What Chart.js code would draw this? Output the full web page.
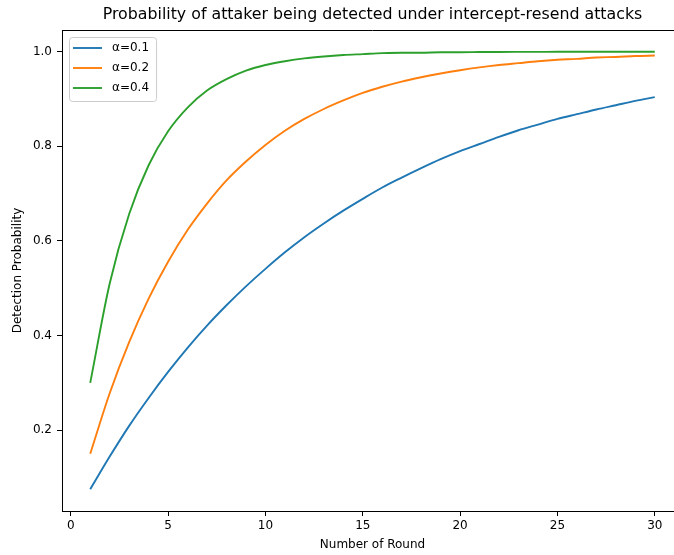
<!DOCTYPE html>
<html>
<head>
<meta charset="utf-8">
<script src="https://cdn.jsdelivr.net/npm/chart.js@4.4.1/dist/chart.umd.min.js"></script>
<style>
  html, body { margin: 0; padding: 0; background: #fff; overflow: hidden; }
  #wrap { width: 674px; height: 555px; overflow: hidden; }
</style>
</head>
<body>
<div id="wrap"><canvas id="chart" width="700" height="555"></canvas></div>
<script>
// data
const chartTitle = 'Probability of attaker being detected under intercept-resend attacks';
const xTitle = 'Number of Round';
const yTitle = 'Detection Probability';

const rounds = [1, 2, 3, 4, 5, 6, 7, 8, 9, 10, 11, 12, 13, 14, 15,
                16, 17, 18, 19, 20, 21, 22, 23, 24, 25, 26, 27, 28, 29, 30];

const seriesLabels = ['α=0.1', 'α=0.2', 'α=0.4'];
const seriesColors = ['#1f77b4', '#ff7f0e', '#2ca02c'];

const alpha01 = [0.075, 0.144, 0.209, 0.268, 0.323, 0.374, 0.421, 0.464, 0.504, 0.541,
                 0.576, 0.608, 0.637, 0.664, 0.689, 0.713, 0.734, 0.754, 0.773, 0.790,
                 0.805, 0.820, 0.834, 0.846, 0.858, 0.868, 0.878, 0.887, 0.896, 0.904];
const alpha02 = [0.150, 0.278, 0.386, 0.478, 0.556, 0.623, 0.679, 0.728, 0.768, 0.803,
                 0.833, 0.858, 0.879, 0.897, 0.913, 0.926, 0.937, 0.946, 0.954, 0.961,
                 0.967, 0.972, 0.976, 0.980, 0.983, 0.985, 0.988, 0.989, 0.991, 0.992];
const alpha04 = [0.300, 0.510, 0.657, 0.760, 0.832, 0.882, 0.918, 0.942, 0.960, 0.972,
                 0.980, 0.986, 0.990, 0.993, 0.995, 0.997, 0.998, 0.998, 0.999, 0.999,
                 0.9994, 0.9996, 0.9997, 0.9998, 0.9999, 0.9999, 0.9999, 1.0, 1.0, 1.0];

const xTickValues = [0, 5, 10, 15, 20, 25, 30];
const yTickValues = [0.2, 0.4, 0.6, 0.8, 1.0];

Chart.defaults.font.family = '"DejaVu Sans", sans-serif';
Chart.defaults.font.size = 12;
Chart.defaults.color = '#000';

const allSeries = [alpha01, alpha02, alpha04];

// matplotlib style title + top spine + legend box inside the axes
const mplExtras = {
    id: 'mplExtras',
    afterDatasetsDraw(chart) {
        const ctx = chart.ctx;
        const area = chart.chartArea;
        ctx.save();

        // top spine
        ctx.strokeStyle = '#000';
        ctx.lineWidth = 1;
        ctx.beginPath();
        ctx.moveTo(area.left, area.top + 0.5);
        ctx.lineTo(area.right, area.top + 0.5);
        ctx.stroke();

        // title
        ctx.fillStyle = '#000';
        ctx.font = '15.8px "DejaVu Sans", sans-serif';
        ctx.textAlign = 'center';
        ctx.textBaseline = 'middle';
        ctx.fillText(chartTitle, (area.left + area.right) / 2, 15);

        // legend
        ctx.font = '12px "DejaVu Sans", sans-serif';
        const sets = chart.data.datasets;
        let textW = 0;
        sets.forEach(ds => { textW = Math.max(textW, ctx.measureText(ds.label).width); });
        const bx = area.left + 7, by = area.top + 7;
        const bw = 43 + textW + 7, bh = 64;
        ctx.fillStyle = 'rgba(255,255,255,0.8)';
        ctx.strokeStyle = '#cccccc';
        ctx.lineWidth = 1;
        ctx.beginPath();
        ctx.roundRect(bx + 0.5, by + 0.5, bw, bh, 3);
        ctx.fill();
        ctx.stroke();

        sets.forEach((ds, i) => {
            const y = by + 11 + i * 20;
            ctx.strokeStyle = ds.borderColor;
            ctx.lineWidth = ds.borderWidth;
            ctx.beginPath();
            ctx.moveTo(bx + 4, y);
            ctx.lineTo(bx + 33, y);
            ctx.stroke();
            ctx.fillStyle = '#000';
            ctx.textAlign = 'left';
            ctx.textBaseline = 'middle';
            ctx.fillText(ds.label, bx + 43, y);
        });
        ctx.restore();
    }
};

const datasets = allSeries.map((values, i) => ({
    label: seriesLabels[i],
    data: rounds.map((r, j) => ({ x: r, y: values[j] })),
    borderColor: seriesColors[i],
    backgroundColor: seriesColors[i],
    borderWidth: 1.9,
    pointRadius: 0,
    cubicInterpolationMode: 'monotone',
    fill: false,
    order: allSeries.length - i
}));

new Chart(document.getElementById('chart'), {
    type: 'line',
    data: { datasets },
    options: {
        responsive: false,
        animation: false,
        devicePixelRatio: 1,
        layout: { padding: { left: 0, right: 17, top: 30, bottom: 0 } },
        plugins: {
            legend: { display: false },
            title: { display: false },
            tooltip: { enabled: false }
        },
        scales: {
            x: {
                type: 'linear',
                min: -0.45,
                max: 31.45,
                afterBuildTicks: scale => { scale.ticks = xTickValues.map(v => ({ value: v })); },
                afterFit: scale => { scale.height = 44; },
                grid: { drawOnChartArea: false, drawTicks: true, tickLength: 5, color: '#000' },
                border: { display: true, color: '#000', width: 1 },
                ticks: { padding: 3, color: '#000', maxRotation: 0, callback: v => String(v) },
                title: { display: true, text: xTitle, color: '#000', padding: { top: 0, bottom: 3 } }
            },
            y: {
                min: 0.029,
                max: 1.046,
                afterBuildTicks: scale => { scale.ticks = yTickValues.map(v => ({ value: v })); },
                afterFit: scale => { scale.width = 62; },
                grid: { drawOnChartArea: false, drawTicks: true, tickLength: 5, color: '#000' },
                border: { display: true, color: '#000', width: 1 },
                ticks: { padding: 5, color: '#000', callback: v => v.toFixed(1) },
                title: { display: true, text: yTitle, color: '#000', padding: { top: 11, bottom: 0 } }
            }
        }
    },
    plugins: [mplExtras]
});
</script>
</body>
</html>
